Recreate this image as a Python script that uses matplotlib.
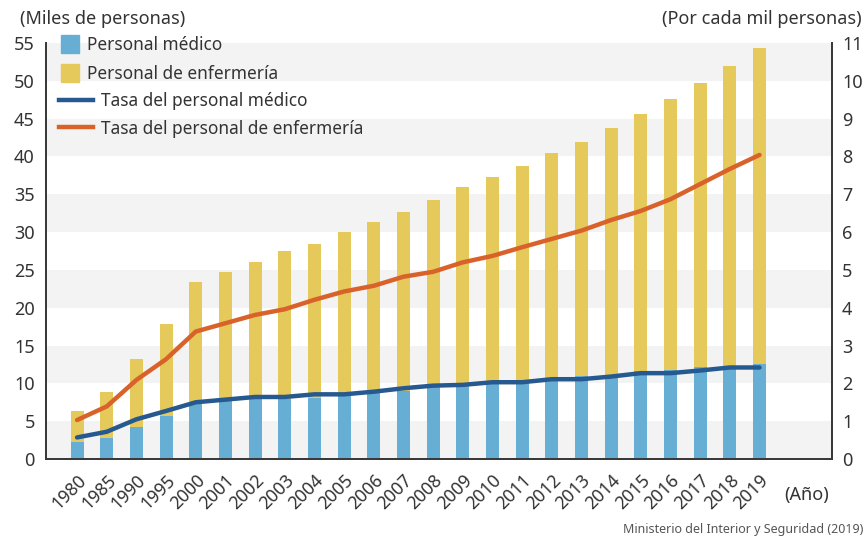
import matplotlib
matplotlib.use("Agg")
import matplotlib.pyplot as plt
import matplotlib.transforms as mtransforms
from matplotlib.lines import Line2D
import numpy as np

plt.rcParams['font.family'] = ['Noto Sans', 'DejaVu Sans']

years = ['1980', '1985', '1990', '1995', '2000', '2001', '2002', '2003', '2004',
         '2005', '2006', '2007', '2008', '2009', '2010', '2011', '2012', '2013',
         '2014', '2015', '2016', '2017', '2018', '2019']

# Staff counts (thousands of people): doctors and total (doctors + nurses)
medicos = [2.3, 2.8, 4.2, 5.7, 7.3, 7.7, 7.9, 7.9, 8.1, 8.4, 8.7, 9.0, 9.5,
           9.7, 10.0, 10.1, 10.4, 11.0, 11.1, 11.6, 11.8, 12.2, 12.3, 12.6]
total = [6.4, 8.9, 13.2, 17.9, 23.4, 24.7, 26.1, 27.5, 28.4, 30.0, 31.4, 32.7,
         34.3, 35.9, 37.3, 38.8, 40.4, 41.9, 43.7, 45.6, 47.6, 49.7, 51.9, 54.4]

# Rates per thousand people
tasa_medicos = [0.57, 0.72, 1.05, 1.27, 1.50, 1.57, 1.64, 1.64, 1.71, 1.71,
                1.78, 1.87, 1.94, 1.96, 2.03, 2.03, 2.11, 2.11, 2.18, 2.27,
                2.27, 2.34, 2.42, 2.42]
tasa_enfermeria = [1.03, 1.39, 2.09, 2.64, 3.37, 3.59, 3.81, 3.96, 4.21, 4.43,
                   4.58, 4.82, 4.95, 5.20, 5.37, 5.60, 5.82, 6.04, 6.32, 6.56,
                   6.87, 7.27, 7.67, 8.04]

enfermeria = [t - m for t, m in zip(total, medicos)]

C_BLUE_BAR = '#66AED3'
C_YELLOW = '#E5C95A'
C_BLUE_LINE = '#26598F'
C_ORANGE = '#D9622B'
C_TEXT = '#333333'
C_SPINE = '#3a3a3a'

W, H = 866, 543
fig = plt.figure(figsize=(W / 100, H / 100), dpi=100)
ax = fig.add_axes([0.053, 0.1547, 0.908, 0.7661])
ax2 = ax.twinx()

x = np.arange(len(years))

# Alternating horizontal bands
for lo in range(0, 55, 10):
    ax.axhspan(lo, lo + 5, color='#F3F3F3', zorder=0, lw=0)

ax.bar(x, medicos, width=0.44, color=C_BLUE_BAR, zorder=2)
ax.bar(x, enfermeria, width=0.44, bottom=medicos, color=C_YELLOW, zorder=2)

ax2.plot(x, tasa_medicos, color=C_BLUE_LINE, lw=3.2, solid_capstyle='round', zorder=3)
ax2.plot(x, tasa_enfermeria, color=C_ORANGE, lw=3.2, solid_capstyle='round', zorder=3)

ax.set_xlim(-1.05, 25.45)
ax.set_ylim(0, 55)
ax2.set_ylim(0, 11)
ax.set_yticks(range(0, 56, 5))
ax2.set_yticks(range(0, 12))

ax.set_xticks(x)
ax.set_xticklabels(years, rotation=45, ha='right', va='top', rotation_mode='anchor',
                   fontsize=12.8, color=C_TEXT)
shift = mtransforms.ScaledTranslation(4 / 100, 0, fig.dpi_scale_trans)
for lbl in ax.get_xticklabels():
    lbl.set_transform(lbl.get_transform() + shift)
ax.tick_params(axis='x', direction='in', length=6, width=1.2, color=C_SPINE, pad=9)
ax.tick_params(axis='y', length=0, labelsize=13, labelcolor=C_TEXT, pad=8)
ax2.tick_params(axis='y', length=0, labelsize=13, labelcolor=C_TEXT, pad=7)

for a in (ax, ax2):
    a.spines['top'].set_visible(False)
    for s in ('left', 'right', 'bottom'):
        a.spines[s].set_color(C_SPINE)
        a.spines[s].set_linewidth(1.4)

ax2.patch.set_visible(False)
ax2.set_zorder(1)
ax.set_zorder(0)

# Legend, one row at a time: (handle, label, left px, centre y px, handle length, gap)
legend_rows = [
    (Line2D([], [], marker='s', ls='none', markersize=13.5, color=C_BLUE_BAR),
     'Personal médico', 61, 45, 1.05, 0.47),
    (Line2D([], [], marker='s', ls='none', markersize=13.5, color=C_YELLOW),
     'Personal de enfermería', 61, 74, 1.05, 0.47),
    (Line2D([], [], color=C_BLUE_LINE, lw=3.2),
     'Tasa del personal médico', 59, 101.5, 2.0, 0.42),
    (Line2D([], [], color=C_ORANGE, lw=3.2),
     'Tasa del personal de enfermería', 59, 128.5, 2.0, 0.42),
]
for h, lab, lx, cy, hl, gap in legend_rows:
    lg = fig.legend([h], [lab], loc='center left', bbox_to_anchor=(lx / W, 1 - cy / H),
                    bbox_transform=fig.transFigure, frameon=False, fontsize=12.4,
                    handlelength=hl, handletextpad=gap, borderpad=0, borderaxespad=0)
    for t in lg.get_texts():
        t.set_color(C_TEXT)

fig.text(20 / W, 1 - 19 / H, '(Miles de personas)', ha='left', va='center',
         fontsize=13, color=C_TEXT)
fig.text(862 / W, 1 - 19 / H, '(Por cada mil personas)', ha='right', va='center',
         fontsize=13, color=C_TEXT)
fig.text(807 / W, 1 - 495 / H, '(Año)', ha='center', va='center',
         fontsize=13, color=C_TEXT)
fig.text(863 / W, 1 - 530 / H, 'Ministerio del Interior y Seguridad (2019)',
         ha='right', va='center', fontsize=9, color='#555555',
         family=['Liberation Sans Narrow', 'Noto Sans', 'DejaVu Sans'])

fig.savefig('out.png', dpi=100)
